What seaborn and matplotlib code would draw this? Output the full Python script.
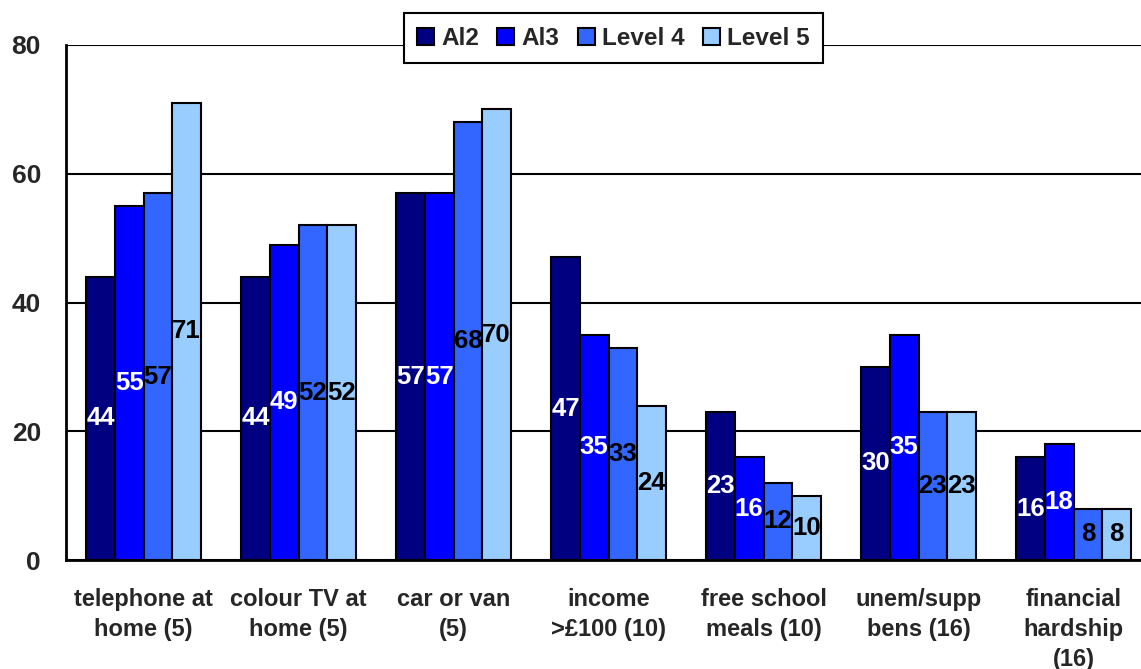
import matplotlib
matplotlib.use('Agg')
import matplotlib.pyplot as plt
import seaborn as sns
import pandas as pd

# categorias e valores
categorias = ['telephone at\nhome (5)', 'colour TV at\nhome (5)', 'car or van\n(5)',
              'income\n>£100 (10)', 'free school\nmeals (10)', 'unem/supp\nbens (16)',
              'financial\nhardship\n(16)']
niveis = ['Al2', 'Al3', 'Level 4', 'Level 5']
al2 = [44, 44, 57, 47, 23, 30, 16]
al3 = [55, 49, 57, 35, 16, 35, 18]
level4 = [57, 52, 68, 33, 12, 23, 8]
level5 = [71, 52, 70, 24, 10, 23, 8]

cores = ['#000080', '#0000FF', '#3366FF', '#99CCFF']
cor_texto = ['white', 'white', 'black', 'black']

linhas = []
for nivel, vals in zip(niveis, [al2, al3, level4, level5]):
    for cat, v in zip(categorias, vals):
        linhas.append({'categoria': cat, 'nivel': nivel, 'valor': v})
df = pd.DataFrame(linhas)

sns.set_style('white')
plt.rcParams['font.family'] = ['Liberation Sans', 'DejaVu Sans']
plt.rcParams['font.weight'] = 'bold'

fig = plt.figure(figsize=(11.41, 6.69), dpi=100)
ax = fig.add_axes([66 / 1141, 1 - 560 / 669, 7 * 155 / 1141, 515 / 669])

sns.barplot(data=df, x='categoria', y='valor', hue='nivel', order=categorias,
            hue_order=niveis, palette=cores, edgecolor='black', linewidth=1.5,
            width=0.74, saturation=1, ax=ax, zorder=3)

# rotulos no meio das barras
for cont, c in zip(ax.containers, cor_texto):
    ax.bar_label(cont, label_type='center', color=c, fontsize=18.5, fontweight='bold')

ax.set_ylim(0, 80)
ax.set_xlim(-0.5, 6.5)
ax.set_yticks([0, 20, 40, 60, 80])
ax.yaxis.grid(True, color='black', linewidth=1.5, zorder=0)
ax.set_axisbelow(True)
for s in ['top', 'right']:
    ax.spines[s].set_visible(False)
for s in ['left', 'bottom']:
    ax.spines[s].set_color('black')
    ax.spines[s].set_linewidth(2)

ax.set_xticks(range(len(categorias)))
ax.set_xticklabels(categorias, fontsize=17, fontweight='bold', linespacing=1.4)
ax.set_xticks([i - 0.5 for i in range(len(categorias) + 1)], minor=True)
ax.tick_params(axis='x', which='major', length=0, pad=20)
ax.tick_params(axis='x', which='minor', length=8, width=1.5, color='black', direction='out')
ax.tick_params(axis='y', length=10, width=1.5, color='black', direction='out', labelsize=19, pad=8)
for t in ax.get_yticklabels():
    t.set_fontweight('bold')
ax.set_xlabel('')
ax.set_ylabel('')

ax.legend_.remove()
handles = ax.containers
leg = fig.legend([h[0] for h in handles], niveis, loc='upper center',
                 bbox_to_anchor=(613.5 / 1141, 1 - 1 / 669), ncol=4, frameon=True,
                 fancybox=False, edgecolor='black', framealpha=1,
                 prop={'size': 17.5, 'weight': 'bold'}, handlelength=0.7, handleheight=0.7,
                 handletextpad=0.3, columnspacing=0.75, borderpad=0.55)
leg.get_frame().set_linewidth(1.5)

fig.savefig('out.png', dpi=100)
